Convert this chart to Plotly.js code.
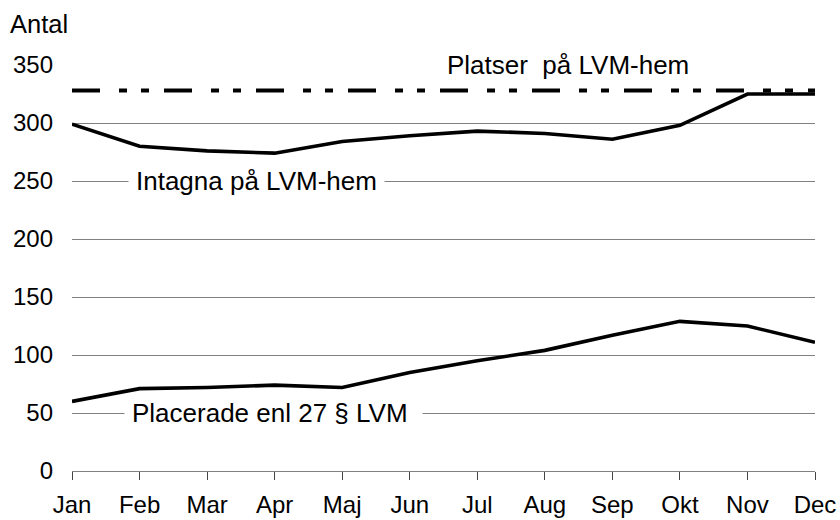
<!DOCTYPE html>
<html>
<head>
<meta charset="utf-8">
<script src="https://cdn.plot.ly/plotly-3.0.1.min.js"></script>
<style>html,body{margin:0;padding:0;background:#fff;}#chart{width:840px;height:520px;}</style>
</head>
<body>
<div id="chart"></div>
<script>
const months = ["Jan","Feb","Mar","Apr","Maj","Jun","Jul","Aug","Sep","Okt","Nov","Dec"];
const platser = [328,328,328,328,328,328,328,328,328,328,328,328];
const intagna = [299,280,276,274,284,289,293,291,286,298,325,325];
const placerade = [60,71,72,74,72,85,95,104,117,129,125,111];
const yTicks = [0,50,100,150,200,250,300,350];
const labels = {
  platser: "Platser\u00a0 på LVM-hem\u00a0",
  intagna: "Intagna på LVM-hem",
  placerade: "Placerade enl 27 § LVM\u00a0",
  yTitle: "Antal"
};

const font = {family: "Liberation Sans, Arial, sans-serif", size: 24, color: "#000"};
const labelFont = {family: "Liberation Sans, Arial, sans-serif", size: 26, color: "#000"};

const traces = [
  {x: months, y: platser, type: "scatter", mode: "lines",
   line: {color: "#000", width: 4, dash: "28px,19px,8px,14px,8px,15px"}, hoverinfo: "skip"},
  {x: months, y: intagna, type: "scatter", mode: "lines",
   line: {color: "#000", width: 3.6}, hoverinfo: "skip"},
  {x: months, y: placerade, type: "scatter", mode: "lines",
   line: {color: "#000", width: 3.6}, hoverinfo: "skip"}
];

// white strip that interrupts the gridline behind each label
const gap = (text, x, y) => ({text, x, y, xref: "x", yref: "y", showarrow: false,
  bgcolor: "#fff", borderpad: 7, height: 1,
  font: Object.assign({}, labelFont, {color: "rgba(0,0,0,0)"}),
  xanchor: "center", yanchor: "middle"});
const lab = (text, x, y) => ({text, x, y, xref: "x", yref: "y", showarrow: false,
  borderpad: 7, font: labelFont, xanchor: "center", yanchor: "middle"});

const layout = {
  width: 840, height: 520,
  margin: {l: 72, r: 25, t: 65, b: 49, pad: 0},
  paper_bgcolor: "#fff", plot_bgcolor: "#fff",
  showlegend: false,
  font: font,
  xaxis: {
    type: "category", range: [0, 11], fixedrange: true,
    showgrid: false, zeroline: false,
    showline: true, linecolor: "#808080", linewidth: 1,
    ticks: "outside", ticklen: 8, tickcolor: "#444", tickwidth: 1,
    tickfont: font, ticklabelstandoff: 4
  },
  yaxis: {
    range: [0, 350], fixedrange: true,
    tickvals: yTicks, ticktext: yTicks.map(String),
    showgrid: true, gridcolor: "#808080", gridwidth: 1,
    zeroline: false, showline: false, ticks: "",
    tickfont: font, ticklabelstandoff: 18
  },
  annotations: [
    gap(labels.platser, 7.40, 350),
    gap(labels.intagna, 2.73, 250),
    gap(labels.placerade, 2.99, 50),
    lab(labels.platser, 7.40, 350),
    lab(labels.intagna, 2.73, 250),
    lab(labels.placerade, 2.99, 50),
    {text: labels.yTitle, xref: "paper", yref: "paper", x: -0.0861, y: 1.102,
     xanchor: "left", yanchor: "middle", showarrow: false,
     font: {family: "Liberation Sans, Arial, sans-serif", size: 25.5, color: "#000"}}
  ]
};

Plotly.newPlot("chart", traces, layout, {staticPlot: true, displayModeBar: false});
</script>
</body>
</html>
